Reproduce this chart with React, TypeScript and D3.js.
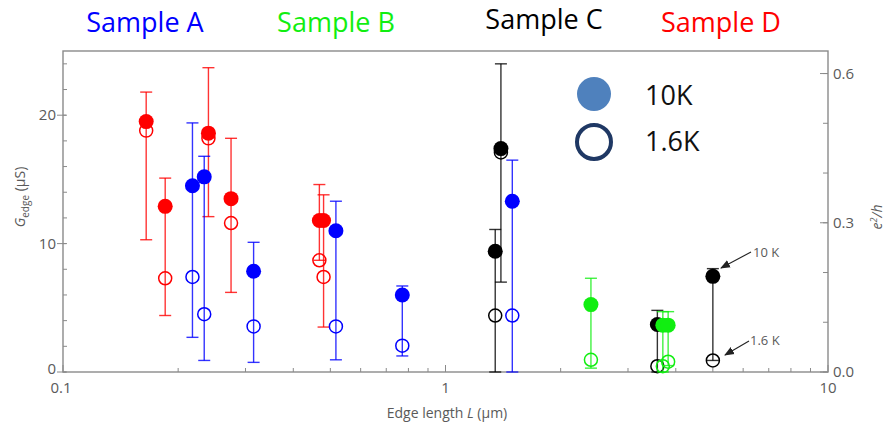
import React from "react";
import * as d3 from "d3";

const W = 887;
const H = 424;

// edge length (µm), G at 10 K, G at 1.6 K, error bar top / bottom (µS)
const lenA = [0.218, 0.234, 0.315, 0.517, 0.771, 1.495];
const g10A = [14.5, 15.2, 7.85, 11.0, 6.0, 13.3];
const g16A = [7.4, 4.5, 3.55, 3.55, 2.05, 4.4];
const hiA = [19.4, 16.8, 10.1, 13.3, 6.7, 16.5];
const loA = [2.7, 0.9, 0.75, 0.95, 1.25, 0];

const lenB = [2.4, 3.7, 3.82];
const g10B = [5.25, 3.65, 3.65];
const g16B = [0.95, 0.45, 0.8];
const hiB = [7.3, 4.7, 4.7];
const loB = [0.3, 0, 0.5];

const lenC = [1.349, 1.396, 3.58, 5.0];
const g10C = [9.4, 17.4, 3.7, 7.45];
const g16C = [4.4, 17.1, 0.45, 0.9];
const hiC = [11.1, 24.0, 4.8, 8.05];
const loC = [0, 7.0, 0, 0.9];

const lenD = [0.165, 0.185, 0.24, 0.275, 0.468, 0.48];
const g10D = [19.5, 12.9, 18.6, 13.5, 11.8, 11.8];
const g16D = [18.8, 7.3, 18.2, 11.6, 8.7, 7.4];
const hiD = [21.8, 15.1, 23.7, 18.2, 14.6, 13.8];
const loD = [10.3, 4.4, 12.1, 6.2, 8.7, 3.5];

const sampleNames = ["Sample A", "Sample B", "Sample C", "Sample D"];
const sampleColors = ["#0000ff", "#11ee11", "#000000", "#ff0000"];

const leftTicks = [0, 10, 20];
const rightTicks = [0, 0.3, 0.6];
const bottomTicks = [0.1, 1, 10];

const E2H = 38.74; // e^2/h in µS

export default function App() {
  const x = d3.scaleLog().domain([0.1, 10]).range([63, 828]);
  const y = d3.scaleLinear().domain([0, 25]).range([372, 51]);
  const yR = d3.scaleLinear().domain([0, 25 / E2H]).range([372, 51]);

  const samples = [
    { color: sampleColors[3], len: lenD, g10: g10D, g16: g16D, hi: hiD, lo: loD },
    { color: sampleColors[0], len: lenA, g10: g10A, g16: g16A, hi: hiA, lo: loA },
    { color: sampleColors[2], len: lenC, g10: g10C, g16: g16C, hi: hiC, lo: loC },
    { color: sampleColors[1], len: lenB, g10: g10B, g16: g16B, hi: hiB, lo: loB },
  ];

  const axisCol = "#8a8a8a";
  const labCol = "#5a5a5a";
  const tickFont = "'Open Sans', sans-serif";

  const leftMinor = d3.range(0, 25, 2);
  const rightMinor = d3.range(0, 0.65, 0.1);
  const bottomMinor: number[] = [];
  [0.1, 1].forEach((d) => {
    for (let k = 2; k <= 9; k++) bottomMinor.push(d * k);
  });

  const titleX = [145, 336, 544, 721];
  const titleY = [32, 32, 29, 32];

  return (
    <div style={{ position: "absolute", left: 0, top: 0 }}>
      <svg width={W} height={H} style={{ display: "block", background: "#fff" }}>
        <defs>
          <marker id="arr" viewBox="0 0 10 10" refX="9" refY="5" markerWidth="9" markerHeight="9" orient="auto">
            <path d="M0,1 L10,5 L0,9 z" fill="#222" />
          </marker>
        </defs>

        {/* sample titles */}
        {sampleNames.map((n, i) => (
          <text key={n} x={titleX[i]} y={titleY[i]} textAnchor="middle" fill={sampleColors[i]}
            style={{ font: "27px 'Open Sans', sans-serif" }}>{n}</text>
        ))}

        {/* frame */}
        <rect x={63} y={51} width={765} height={321} fill="none" stroke={axisCol} strokeWidth={1.4} />

        {/* left axis */}
        {leftMinor.map((v) => (
          <line key={"lm" + v} x1={63} x2={67} y1={y(v)} y2={y(v)} stroke={axisCol} />
        ))}
        {leftTicks.map((v) => (
          <g key={"lt" + v}>
            <line x1={57} x2={66} y1={y(v)} y2={y(v)} stroke={axisCol} />
            <text x={56} y={y(v) - (v === 0 ? 3 : 0)} dy="0.35em" textAnchor="end" fill={labCol} style={{ font: `15px ${tickFont}` }}>{v}</text>
          </g>
        ))}

        {/* right axis */}
        {rightMinor.map((v) => (
          <line key={"rm" + v} x1={823} x2={828} y1={yR(v)} y2={yR(v)} stroke={axisCol} />
        ))}
        {rightTicks.map((v) => (
          <g key={"rt" + v}>
            <line x1={820} x2={828} y1={yR(v)} y2={yR(v)} stroke={axisCol} />
            <text x={833} y={yR(v)} dy="0.35em" fill={labCol} style={{ font: `15px ${tickFont}` }}>{v.toFixed(1)}</text>
          </g>
        ))}

        {/* bottom axis */}
        {bottomMinor.map((v) => (
          <line key={"bm" + v} x1={x(v)} x2={x(v)} y1={372} y2={368} stroke={axisCol} />
        ))}
        {bottomTicks.map((v) => (
          <g key={"bt" + v}>
            <line x1={x(v)} x2={x(v)} y1={372} y2={365} stroke={axisCol} />
            <text x={x(v) - (v === 0.1 ? 2 : 0)} y={393} textAnchor="middle" fill={labCol} style={{ font: `15px ${tickFont}` }}>{v}</text>
          </g>
        ))}

        {/* axis titles */}
        <text x={447} y={418} textAnchor="middle" fill={labCol} style={{ font: `14px ${tickFont}` }}>
          Edge length <tspan fontStyle="italic">L</tspan> (µm)
        </text>
        <text transform="translate(25,197) rotate(-90)" textAnchor="middle" fill={labCol} style={{ font: `14px ${tickFont}` }}>
          <tspan fontStyle="italic">G</tspan>
          <tspan dy="4" fontSize="10">edge</tspan>
          <tspan dy="-4"> (µS)</tspan>
        </text>
        <text transform="translate(882,217) rotate(-90)" textAnchor="middle" fill={labCol} style={{ font: `italic 14px ${tickFont}` }}>
          e<tspan dy="-5" fontSize="9">2</tspan><tspan dy="5">/h</tspan>
        </text>

        {/* data */}
        {samples.map((s, si) => (
          <g key={"s" + si}>
            {s.len.map((L, i) => (
              <g key={i} stroke={s.color} strokeOpacity={0.8} strokeWidth={1.4}>
                <line x1={x(L)} x2={x(L)} y1={y(s.hi[i])} y2={y(s.lo[i])} />
                <line x1={x(L) - 6} x2={x(L) + 6} y1={y(s.hi[i])} y2={y(s.hi[i])} />
                <line x1={x(L) - 6} x2={x(L) + 6} y1={y(s.lo[i])} y2={y(s.lo[i])} />
              </g>
            ))}
            {s.len.map((L, i) => (
              <circle key={"o" + i} cx={x(L)} cy={y(s.g16[i])} r={6.5} fill="none" stroke={s.color} strokeWidth={1.5} />
            ))}
            {s.len.map((L, i) => (
              <circle key={"f" + i} cx={x(L)} cy={y(s.g10[i])} r={7.5} fill={s.color} />
            ))}
          </g>
        ))}

        {/* annotations */}
        <line x1={751} y1={252} x2={721} y2={268} stroke="#222" strokeWidth={1.1} markerEnd="url(#arr)" />
        <text x={753} y={252} dy="0.35em" fill={labCol} style={{ font: `13px ${tickFont}` }}>10 K</text>
        <line x1={749} y1={341} x2={725} y2={355} stroke="#222" strokeWidth={1.1} markerEnd="url(#arr)" />
        <text x={750} y={340} dy="0.35em" fill={labCol} style={{ font: `13px ${tickFont}` }}>1.6 K</text>

        {/* legend */}
        <circle cx={594} cy={94} r={17} fill="#4f81bd" />
        <circle cx={594} cy={142} r={17} fill="none" stroke="#1f3864" strokeWidth={4} />
        <text x={645} y={105} fill="#111" style={{ font: "27px 'Open Sans', sans-serif" }}>10K</text>
        <text x={645} y={151} fill="#111" style={{ font: "27px 'Open Sans', sans-serif" }}>1.6K</text>
      </svg>
    </div>
  );
}
